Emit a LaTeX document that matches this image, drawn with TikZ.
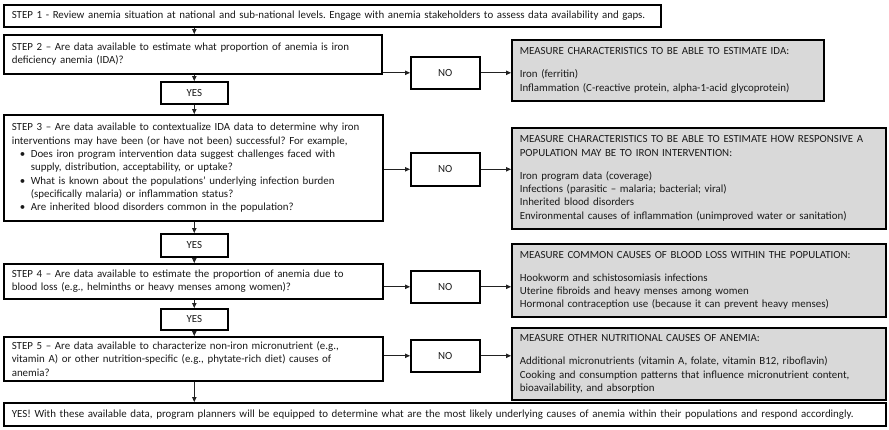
\documentclass[tikz,border=0pt]{standalone}
\usepackage{fontspec}
\setmainfont{Carlito}
\usetikzlibrary{arrows.meta}
\definecolor{txt}{HTML}{1A1A1A}
\definecolor{grayfill}{HTML}{D9D9D9}
\definecolor{linec}{HTML}{222222}
\newcommand{\fs}{\fontsize{10.9}{13.3}\selectfont\frenchspacing}
\newcommand{\bul}{\makebox[19pt][l]{\hspace{8pt}\textbullet}}
\newcommand{\ind}{\hspace*{19pt}}
\tikzset{
  base/.style={draw=black, line width=1.6pt, inner ysep=0pt, anchor=north west, font=\fs, text=txt},
  stepbox/.style={base, fill=white, align=left, inner xsep=8pt},
  measbox/.style={base, fill=grayfill, align=left, inner xsep=8pt},
  smallbox/.style={base, fill=white, align=center, inner xsep=0pt},
  arr/.style={draw=linec, line width=0.9pt, -{Triangle[length=5pt,width=4.5pt]}}
}
\begin{document}
\begin{tikzpicture}[x=1pt,y=-1pt]
\useasboundingbox (0,0) rectangle (889,429);
% steps
\node[stepbox, minimum width=657pt, minimum height=22pt, text width=641pt] (s1) at (3,4)
 {STEP 1 - Review anemia situation at national and sub-national levels. Engage with anemia stakeholders to assess data availability and gaps.};
\node[stepbox, minimum width=378pt, minimum height=39pt, text width=362pt] (s2) at (3,34)
 {STEP 2 – Are data available to estimate what proportion of anemia is iron\\deficiency anemia (IDA)?};
\node[stepbox, minimum width=379pt, minimum height=106pt, text width=363pt] (s3) at (3,114)
 {STEP 3 – Are data available to contextualize IDA data to determine why iron\\
  interventions may have been (or have not been) successful? For example,\\
  \bul Does iron program intervention data suggest challenges faced with\\
  \ind supply, distribution, acceptability, or uptake?\\
  \bul What is known about the populations’ underlying infection burden\\
  \ind (specifically malaria) or inflammation status?\\
  \bul Are inherited blood disorders common in the population?};
\node[stepbox, minimum width=379pt, minimum height=35pt, text width=363pt] (s4) at (3,263)
 {STEP 4 – Are data available to estimate the proportion of anemia due to\\
  blood loss (e.g., helminths or heavy menses among women)?};
\node[stepbox, minimum width=379pt, minimum height=44pt, text width=363pt] (s5) at (3,336)
 {STEP 5 – Are data available to characterize non-iron micronutrient (e.g.,\\
  vitamin A) or other nutrition-specific (e.g., phytate-rich diet) causes of\\
  anemia?};
\node[stepbox, minimum width=882pt, minimum height=23pt, text width=866pt] (fin) at (3,402)
 {YES! With these available data, program planners will be equipped to determine what are the most likely underlying causes of anemia within their populations and respond accordingly.};
% yes boxes
\node[smallbox, minimum width=67pt, minimum height=22pt] (y1) at (160,81) {YES};
\node[smallbox, minimum width=67pt, minimum height=23pt] (y2) at (160,233) {YES};
\node[smallbox, minimum width=67pt, minimum height=21pt] (y3) at (160,308) {YES};
% no boxes
\node[smallbox, minimum width=69pt, minimum height=32pt] (n1) at (410,56) {NO};
\node[smallbox, minimum width=69pt, minimum height=33pt] (n2) at (410,152) {NO};
\node[smallbox, minimum width=69pt, minimum height=32pt] (n3) at (410,270) {NO};
\node[smallbox, minimum width=69pt, minimum height=32pt] (n4) at (410,339) {NO};
% measure boxes
\node[measbox, minimum width=312pt, minimum height=61pt, text width=296pt] (m1) at (511,39)
 {MEASURE CHARACTERISTICS TO BE ABLE TO ESTIMATE IDA:\\[10pt]
  Iron (ferritin)\\
  Inflammation (C-reactive protein, alpha-1-acid glycoprotein)};
\node[measbox, minimum width=374pt, minimum height=101pt, text width=358pt] (m2) at (511,127)
 {MEASURE CHARACTERISTICS TO BE ABLE TO ESTIMATE HOW RESPONSIVE A\\
  POPULATION MAY BE TO IRON INTERVENTION:\\[10pt]
  Iron program data (coverage)\\
  Infections (parasitic – malaria; bacterial; viral)\\
  Inherited blood disorders\\
  Environmental causes of inflammation (unimproved water or sanitation)};
\node[measbox, minimum width=374pt, minimum height=73pt, text width=358pt] (m3) at (511,243)
 {MEASURE COMMON CAUSES OF BLOOD LOSS WITHIN THE POPULATION:\\[10pt]
  Hookworm and schistosomiasis infections\\
  Uterine fibroids and heavy menses among women\\
  Hormonal contraception use (because it can prevent heavy menses)};
\node[measbox, minimum width=374pt, minimum height=72pt, text width=358pt] (m4) at (511,327)
 {MEASURE OTHER NUTRITIONAL CAUSES OF ANEMIA:\\[10pt]
  Additional micronutrients (vitamin A, folate, vitamin B12, riboflavin)\\
  Cooking and consumption patterns that influence micronutrient content,\\
  bioavailability, and absorption};
% vertical arrows
\draw[arr] (y1.north |- s1.south) -- (y1.north |- s2.north);
\draw[arr] (y1.north |- s2.south) -- (y1.north);
\draw[arr] (y1.south) -- (y1.south |- s3.north);
\draw[arr] (y2.north |- s3.south) -- (y2.north);
\draw[arr] (y2.south) -- (y2.south |- s4.north);
\draw[arr] (y3.north |- s4.south) -- (y3.north);
\draw[arr] (y3.south) -- (y3.south |- s5.north);
\draw[arr] (y3.south |- s5.south) -- (y3.south |- fin.north);
% horizontal arrows
\draw[arr] (s2.east |- n1.west) -- (n1.west);
\draw[arr] (n1.east) -- (n1.east -| m1.west);
\draw[arr] (s3.east |- n2.west) -- (n2.west);
\draw[arr] (n2.east) -- (n2.east -| m2.west);
\draw[arr] (s4.east |- n3.west) -- (n3.west);
\draw[arr] (n3.east) -- (n3.east -| m3.west);
\draw[arr] (s5.east |- n4.west) -- (n4.west);
\draw[arr] (n4.east) -- (n4.east -| m4.west);
\end{tikzpicture}
\end{document}
